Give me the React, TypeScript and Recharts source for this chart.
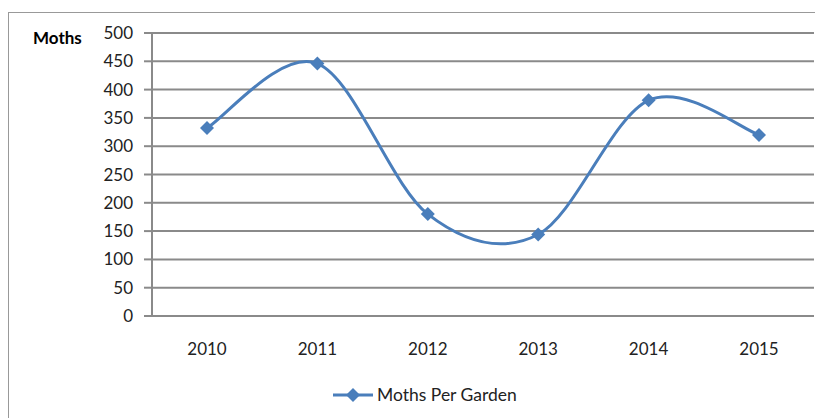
import React from 'react'
import { LineChart, Line, XAxis, YAxis, CartesianGrid, Legend } from 'recharts'

const YEARS = ['2010', '2011', '2012', '2013', '2014', '2015']
const MOTHS = [332, 446, 180, 144, 381, 320]
const Y_TICKS = [0, 50, 100, 150, 200, 250, 300, 350, 400, 450, 500]
const BOUNDARY_TICKS = [0, 1, 2, 3, 4, 5, 6]

const BLUE = '#4a7ebb'
const GRID = '#8a8a8a'
const FONT = 'Lato, "Open Sans", sans-serif'

const data = YEARS.map((year, i) => ({ year, moths: MOTHS[i] }))

// Excel-like smoothed line (Catmull-Rom, 1/6 control points)
function excelCurve(context: any) {
  let pts: number[][] = []
  return {
    areaStart() {},
    areaEnd() {},
    lineStart() {
      pts = []
    },
    point(x: number, y: number) {
      pts.push([+x, +y])
    },
    lineEnd() {
      const n = pts.length
      if (!n) return
      context.moveTo(pts[0][0], pts[0][1])
      for (let i = 0; i < n - 1; i++) {
        const p0 = pts[Math.max(i - 1, 0)]
        const p1 = pts[i]
        const p2 = pts[i + 1]
        const p3 = pts[Math.min(i + 2, n - 1)]
        context.bezierCurveTo(
          p1[0] + (p2[0] - p0[0]) / 6,
          p1[1] + (p2[1] - p0[1]) / 6,
          p2[0] - (p3[0] - p1[0]) / 6,
          p2[1] - (p3[1] - p1[1]) / 6,
          p2[0],
          p2[1]
        )
      }
    },
  }
}

const diamond = (cx: number, cy: number, r: number) =>
  `M${cx},${cy - r}L${cx + r},${cy}L${cx},${cy + r}L${cx - r},${cy}Z`

const renderDot = (props: any) => {
  const { cx, cy, index } = props
  return <path key={`dot-${index}`} d={diamond(cx, cy, 7)} fill={BLUE} />
}

const renderMothsLabel = () => (
  <text x={25} y={36} fontFamily={FONT} fontSize={17} fontWeight="bold" fill="#000">
    Moths
  </text>
)

const renderLegend = () => (
  <div style={{ display: 'flex', alignItems: 'center', marginLeft: 325, height: 20, fontFamily: FONT }}>
    <svg width={40} height={16}>
      <line x1={0} y1={8} x2={40} y2={8} stroke={BLUE} strokeWidth={3} />
      <path d={diamond(20, 8, 7)} fill={BLUE} />
    </svg>
    <span style={{ marginLeft: 4, fontSize: 17.5, color: '#222', lineHeight: '20px' }}>Moths Per Garden</span>
  </div>
)

export default function App() {
  return (
    <div style={{ position: 'relative', width: 815, height: 410, overflow: 'hidden', background: '#fff' }}>
      <div
        style={{
          position: 'absolute',
          top: 4,
          left: 0,
          width: 815,
          height: 500,
          borderTop: '1px solid #999',
          borderLeft: '1px solid #999',
        }}
      />
      <LineChart
        width={815}
        height={410}
        data={data}
        margin={{ top: 25, right: 9, left: 0, bottom: 72 }}
        style={{ position: 'absolute', top: 0, left: 0 }}
      >
        <CartesianGrid xAxisId="b" horizontal vertical={false} stroke={GRID} strokeWidth={2} />
        <XAxis
          xAxisId="a"
          type="number"
          domain={[0, 6]}
          ticks={BOUNDARY_TICKS}
          height={1}
          tick={false}
          tickSize={7}
          tickLine={{ stroke: GRID, strokeWidth: 2 }}
          axisLine={{ stroke: GRID, strokeWidth: 2 }}
        />
        <XAxis
          xAxisId="b"
          dataKey="year"
          height={29}
          padding={{ left: 55, right: 55 }}
          tickLine={false}
          axisLine={false}
          tickSize={6}
          tickMargin={20}
          tick={{ fill: '#222', fontSize: 17, fontFamily: FONT }}
        />
        <YAxis
          width={144}
          domain={[0, 500]}
          ticks={Y_TICKS}
          interval={0}
          tickSize={8}
          tickMargin={11}
          tickLine={{ stroke: GRID, strokeWidth: 2 }}
          axisLine={{ stroke: GRID, strokeWidth: 2 }}
          tick={{ fill: '#222', fontSize: 17, fontFamily: FONT }}
          label={renderMothsLabel}
        />
        <Legend
          verticalAlign="middle"
          align="center"
          content={renderLegend}
          wrapperStyle={{ top: 377, left: 0, width: 815 }}
        />
        <Line
          xAxisId="b"
          dataKey="moths"
          name="Moths Per Garden"
          type={excelCurve as any}
          stroke={BLUE}
          strokeWidth={3}
          dot={renderDot}
          activeDot={false}
          isAnimationActive={false}
        />
      </LineChart>
    </div>
  )
}
